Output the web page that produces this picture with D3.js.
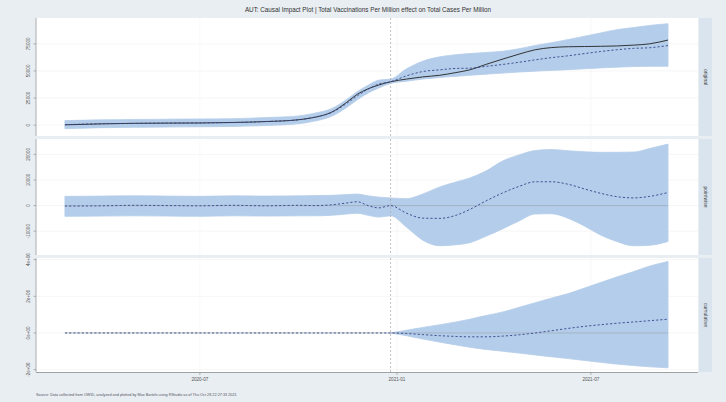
<!DOCTYPE html>
<html><head><meta charset="utf-8">
<script src="https://cdn.jsdelivr.net/npm/d3@7"></script>
<style>html,body{margin:0;padding:0;background:#e9eef2;}svg{display:block;font-family:"Liberation Sans",Arial,sans-serif;}</style>
</head><body><svg id="c" width="726" height="402"></svg>
<script>
const titleText = "AUT: Causal Impact Plot | Total Vaccinations Per Million effect on Total Cases Per Million";
const captionText = "Source: Data collected from OWID, analyzed and plotted by Max Bartels using RStudio as of Thu Oct 28 22:27:33 2021";
const interventionDate = "2020-12-26";
const dates = ["2020-02-26","2020-04-01","2020-05-01","2020-06-01","2020-07-01","2020-08-01","2020-09-01","2020-10-01","2020-10-15","2020-11-01","2020-11-15","2020-11-25","2020-12-05","2020-12-15","2020-12-26","2021-01-10","2021-01-25","2021-02-10","2021-02-25","2021-03-10","2021-03-25","2021-04-10","2021-04-25","2021-05-10","2021-05-25","2021-06-10","2021-06-25","2021-07-10","2021-07-25","2021-08-10","2021-08-25","2021-09-11"];
// panel "original"
const originalActual = [300,1200,1700,1900,2000,2500,3300,5000,7000,12000,21000,28500,33500,37000,40000,42500,44500,46000,48500,51000,56000,61000,65500,69500,71500,72300,72500,72700,73000,73800,75000,78500];
const originalPred   = [500,1300,1600,1900,2100,2400,3400,4900,7200,11700,20000,27000,33200,37900,40000,45500,49400,51000,52300,52500,54200,56000,58000,60200,62200,64000,66000,67900,69500,70800,71400,73400];
const originalLower  = [-3200,-2300,-2000,-1700,-1500,-1200,-300,1300,3500,8200,16300,23500,29600,34300,38500,40500,42500,44000,45000,46000,47000,48000,49000,49800,50500,51200,52000,52800,53500,54000,54200,54300];
const originalUpper  = [4200,4900,5200,5500,5700,6000,7000,8500,10800,15300,23700,31000,36800,41500,42500,52000,59000,63000,65000,66000,67000,68200,70500,73500,76000,79000,82000,85000,88000,90000,92000,93500];
// panel "pointwise"
const pointwiseEffect = [-200,-100,100,0,-100,100,-100,100,0,300,1000,1500,0,-900,0,-3000,-4900,-5000,-3800,-1500,1800,5000,7500,9300,9300,8300,6500,4800,3500,3000,3600,5100];
const pointwiseLower  = [-4200,-4100,-4000,-4100,-4200,-4000,-4100,-4000,-4000,-3800,-3300,-3000,-3800,-4500,-4000,-8500,-13500,-15700,-15300,-14500,-12000,-9000,-6000,-3300,-3200,-5000,-8000,-11500,-14000,-15700,-15500,-14000];
const pointwiseUpper  = [3600,3700,3800,3700,3600,3800,3700,3800,3900,4000,4300,4500,3800,3300,3000,2700,4500,7300,9200,10800,13500,17500,19800,21500,21900,21400,21000,20800,20800,20900,22300,24000];
// panel "cumulative"
const cumulativeEffect = [0,0,0,0,0,0,0,0,0,0,0,0,0,0,0,-30000,-90000,-150000,-190000,-210000,-210000,-170000,-100000,0,120000,250000,360000,450000,530000,600000,670000,750000];
const cumulativeLower  = [null,null,null,null,null,null,null,null,null,null,null,null,null,null,0,-150000,-330000,-500000,-650000,-780000,-900000,-1000000,-1100000,-1200000,-1300000,-1400000,-1500000,-1600000,-1700000,-1780000,-1850000,-1900000];
const cumulativeUpper  = [null,null,null,null,null,null,null,null,null,null,null,null,null,null,0,150000,300000,450000,600000,750000,950000,1150000,1400000,1650000,1900000,2150000,2450000,2750000,3050000,3350000,3650000,3900000];
const panelNames = ["original","pointwise","cumulative"];
const ticksOriginal = [0,25000,50000,75000];
const ticksPointwise = [-10000,0,10000,20000];
const ticksCumulative = [-2000000,0,2000000,4000000];
const tickLabelsCumulative = ["-2e+06","0e+00","2e+06","4e+06"];
const xTickDates = ["2020-07-01","2021-01-01","2021-07-01"];
const xTickLabels = ["2020-07","2021-01","2021-07"];

const svg = d3.select("#c");
const parse = d3.timeParse("%Y-%m-%d");
const D = dates.map(parse);
const L = 36, R = 698;
const x = d3.scaleTime().domain([parse("2020-01-30"), parse("2021-10-09")]).range([L, R]);

const panels = [
  {name:panelNames[0], top:18, bottom:136, domain:[-10000, 98800], ticks:ticksOriginal, labels:ticksOriginal.map(String),
   lo:originalLower, hi:originalUpper, dash:originalPred, solid:originalActual, zero:false},
  {name:panelNames[1], top:139, bottom:255, domain:[-19300, 26000], ticks:ticksPointwise, labels:ticksPointwise.map(String),
   lo:pointwiseLower, hi:pointwiseUpper, dash:pointwiseEffect, solid:null, zero:true},
  {name:panelNames[2], top:258, bottom:372, domain:[-2130000, 4090000], ticks:ticksCumulative, labels:tickLabelsCumulative,
   lo:cumulativeLower, hi:cumulativeUpper, dash:cumulativeEffect, solid:null, zero:true}
];

svg.append("text").attr("x", 368).attr("y", 12).attr("text-anchor","middle")
  .attr("font-size", 6.3).attr("fill","#333").text(titleText);

const bandColor = "#b4cdea", dashColor = "#37468a";

panels.forEach(p => {
  const y = d3.scaleLinear().domain(p.domain).range([p.bottom, p.top]);
  const g = svg.append("g");
  g.append("rect").attr("x", L).attr("y", p.top).attr("width", R-L).attr("height", p.bottom-p.top).attr("fill","#fff");
  // grid
  g.selectAll(".gy").data(p.ticks).join("line").attr("x1", L).attr("x2", R)
    .attr("y1", d=>y(d)).attr("y2", d=>y(d)).attr("stroke","#f0f0f0").attr("stroke-width",0.6);
  g.selectAll(".gx").data(xTickDates.map(parse)).join("line").attr("y1", p.top).attr("y2", p.bottom)
    .attr("x1", d=>x(d)).attr("x2", d=>x(d)).attr("stroke","#f4f4f4").attr("stroke-width",0.6);
  // band
  const idx = D.map((d,i)=>i);
  const area = d3.area().defined(i => p.lo[i] != null && p.hi[i] != null)
    .x(i => x(D[i])).y0(i => y(p.lo[i])).y1(i => y(p.hi[i])).curve(d3.curveMonotoneX);
  g.append("path").attr("d", area(idx)).attr("fill", bandColor).attr("stroke", bandColor).attr("stroke-width",0.8);
  if (p.zero) {
    g.append("line").attr("x1", x(D[0])).attr("x2", x(D[D.length-1])).attr("y1", y(0)).attr("y2", y(0))
      .attr("stroke","#9aa3ad").attr("stroke-width",0.6);
  }
  const line = arr => d3.line().x(i => x(D[i])).y(i => y(arr[i])).curve(d3.curveMonotoneX)(idx);
  if (p.solid) g.append("path").attr("d", line(p.solid)).attr("fill","none").attr("stroke","#222").attr("stroke-width",0.9);
  g.append("path").attr("d", line(p.dash)).attr("fill","none").attr("stroke",dashColor).attr("stroke-width",0.9).attr("stroke-dasharray","2.2,2");
  // intervention
  g.append("line").attr("x1", x(parse(interventionDate))).attr("x2", x(parse(interventionDate)))
    .attr("y1", p.top).attr("y2", p.bottom).attr("stroke","#a8a8a8").attr("stroke-width",0.7).attr("stroke-dasharray","2,2");
  // y axis
  g.append("line").attr("x1", L).attr("x2", L).attr("y1", p.top).attr("y2", p.bottom).attr("stroke","#999").attr("stroke-width",0.8);
  p.ticks.forEach((t,k) => {
    g.append("line").attr("x1", L-2.5).attr("x2", L).attr("y1", y(t)).attr("y2", y(t)).attr("stroke","#888").attr("stroke-width",0.6);
    g.append("text").attr("transform", `translate(${L-6},${y(t)}) rotate(-90)`).attr("text-anchor","middle")
      .attr("font-size", 4.6).attr("fill","#555").text(p.labels[k]);
  });
  // strip
  g.append("rect").attr("x", 699).attr("y", p.top).attr("width", 13).attr("height", p.bottom-p.top).attr("fill","#d9e4ee");
  g.append("text").attr("transform", `translate(${704},${(p.top+p.bottom)/2}) rotate(90)`).attr("text-anchor","middle")
    .attr("font-size", 5).attr("fill","#444").text(p.name);
});

// x axis
svg.append("line").attr("x1", L).attr("x2", R).attr("y1", 372.5).attr("y2", 372.5).attr("stroke","#999").attr("stroke-width",0.9);
xTickDates.forEach((d,k) => {
  const xx = x(parse(d));
  svg.append("line").attr("x1", xx).attr("x2", xx).attr("y1", 372.5).attr("y2", 375).attr("stroke","#888").attr("stroke-width",0.6);
  svg.append("text").attr("x", xx).attr("y", 381).attr("text-anchor","middle").attr("font-size",4.6).attr("fill","#555").text(xTickLabels[k]);
});
svg.append("text").attr("x", 36).attr("y", 396).attr("font-size",3.8).attr("fill","#556").text(captionText);
</script></body></html>
